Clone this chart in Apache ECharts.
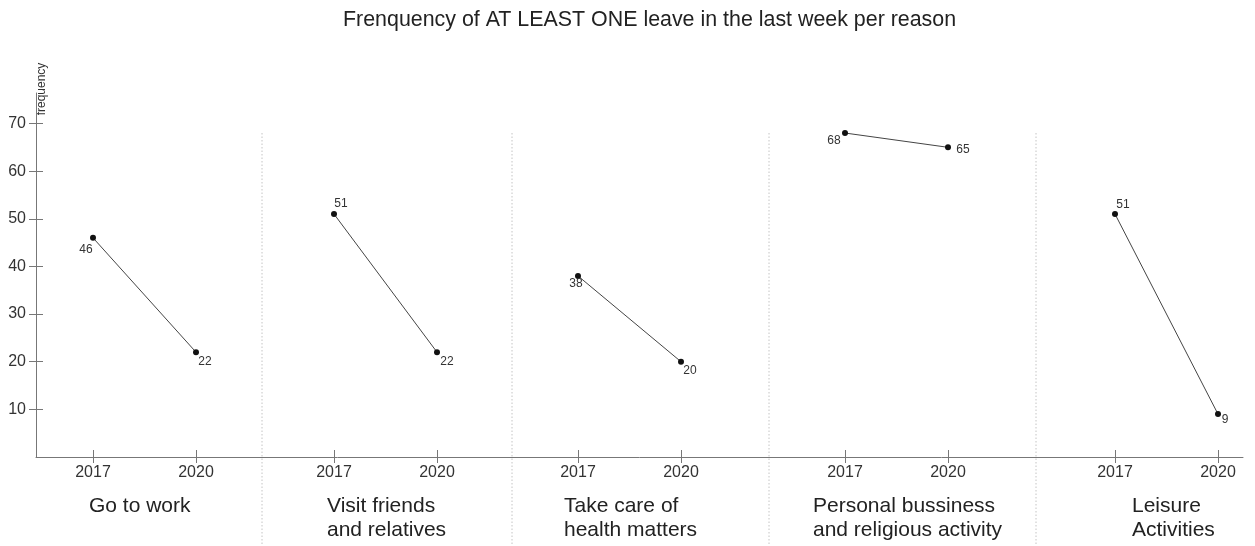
<!DOCTYPE html>
<html>
<head>
<meta charset="utf-8">
<script src="https://cdn.jsdelivr.net/npm/echarts@6/dist/echarts.min.js"></script>
<style>
  html, body { margin: 0; padding: 0; background: #fff; }
  #main { width: 1255px; height: 546px; }
</style>
</head>
<body>
<div id="main"></div>
<script>
// data
const reasons = ['Go to work', 'Visit friends\nand relatives', 'Take care of\nhealth matters',
    'Personal bussiness\nand religious activity', 'Leisure\nActivities'];
const years = ['2017', '2020'];
const values2017 = [46, 51, 38, 68, 51];
const values2020 = [22, 22, 20, 65, 9];
const yTicks = [10, 20, 30, 40, 50, 60, 70];

// layout (px)
const gridTop = 93, gridBottom = 89;
const yMax = 76.4;
const groupLeft = [93, 334, 578, 845, 1115];
const groupWidth = 103;
const reasonLeft = [89, 327, 564, 813, 1132];
const separators = [262, 512, 769, 1036];
const labelOffsets = [
    [[-7, 12], [9, 10]],
    [[7, -10], [10, 10]],
    [[-2, 8], [9, 9]],
    [[-11, 8], [15, 2]],
    [[8, -9], [7, 6]]
];

const axisColor = '#777';
const textColor = '#333';

let myChart = echarts.init(document.getElementById('main'));

let grids = [{ left: 36, right: 12, top: gridTop, bottom: gridBottom }];
let xAxes = [{
    gridIndex: 0, type: 'value', min: 0, max: 1,
    axisLine: { show: true, lineStyle: { color: axisColor } },
    axisTick: { show: false }, axisLabel: { show: false }, splitLine: { show: false }
}];
let yAxes = [
    {
        gridIndex: 0, type: 'value', position: 'left', min: 0, max: yMax,
        name: 'frequency', nameLocation: 'end', nameRotate: 90, nameGap: 1,
        nameTextStyle: { fontSize: 12, color: textColor, align: 'center', verticalAlign: 'top', padding: [0, 0, 0, 6] },
        axisLine: { show: true, lineStyle: { color: axisColor } },
        axisTick: { show: false }, axisLabel: { show: false }, splitLine: { show: false }
    },
    {
        gridIndex: 0, type: 'value', position: 'left', min: 0, max: yMax, offset: -7,
        axisLine: { show: false },
        axisTick: { show: true, length: 14, customValues: yTicks, lineStyle: { color: axisColor } },
        axisLabel: { show: true, customValues: yTicks, fontSize: 16, color: textColor, margin: 17 },
        splitLine: { show: false }
    }
];
let series = [];
let titles = [{
    text: 'Frenquency of AT LEAST ONE leave in the last week per reason',
    left: 343, top: 10, padding: 0,
    textStyle: { fontSize: 21.4, fontWeight: 'normal', color: '#222' }
}];

reasons.forEach(function (name, i) {
    grids.push({ left: groupLeft[i], width: groupWidth, top: gridTop, bottom: gridBottom });
    xAxes.push({
        gridIndex: i + 1, type: 'category', data: years, boundaryGap: false, offset: -7,
        axisLine: { show: false },
        axisTick: { show: true, length: 13, lineStyle: { color: axisColor } },
        axisLabel: { fontSize: 16, color: textColor, margin: 15 }
    });
    yAxes.push({ gridIndex: i + 1, type: 'value', min: 0, max: yMax, show: false });
    series.push({
        type: 'line',
        name: name,
        xAxisIndex: i + 1,
        yAxisIndex: i + 2,
        clip: false,
        symbol: 'circle',
        symbolSize: 6,
        itemStyle: { color: '#111' },
        lineStyle: { color: '#444', width: 1 },
        label: { show: true, position: 'inside', fontSize: 12, color: textColor },
        data: [
            { value: values2017[i], label: { offset: labelOffsets[i][0] } },
            { value: values2020[i], label: { offset: labelOffsets[i][1] } }
        ]
    });
    titles.push({
        text: name, left: reasonLeft[i], top: 494, padding: 0,
        textStyle: { fontSize: 21, fontWeight: 'normal', color: '#222', lineHeight: 24 }
    });
});

myChart.setOption({
    animation: false,
    textStyle: { fontFamily: 'Liberation Sans, Arial, sans-serif' },
    title: titles,
    grid: grids,
    xAxis: xAxes,
    yAxis: yAxes,
    series: series,
    graphic: separators.map(function (x) {
        return {
            type: 'line', silent: true,
            shape: { x1: x, y1: 133, x2: x, y2: 546 },
            style: { stroke: '#c4c4c4', lineWidth: 1, lineDash: [1.5, 2] }
        };
    })
});

window.addEventListener('resize', function () {
    myChart.resize();
});
</script>
</body>
</html>
